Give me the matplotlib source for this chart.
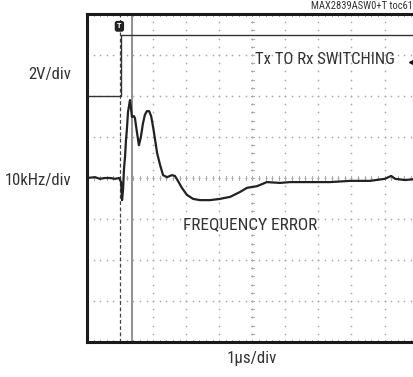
import numpy as np
import matplotlib
matplotlib.use('Agg')
import matplotlib.pyplot as plt
from matplotlib import font_manager

# pick a narrow face if one is available
names = set(f.name for f in font_manager.fontManager.ttflist)
narrow = [n for n in ['Liberation Sans Narrow', 'Roboto Condensed', 'Open Sans Condensed'] if n in names]
plt.rcParams['font.family'] = narrow + ['DejaVu Sans']
plt.rcParams['font.stretch'] = 'condensed'

# scope trace, in divisions (1us/div, 10kHz/div)
t_freq = [0.0, 0.24, 0.39, 0.54, 0.70, 0.85, 0.97, 1.03, 1.06, 1.09, 1.12, 1.15,
          1.18, 1.21, 1.24, 1.30, 1.33, 1.36, 1.42, 1.45, 1.51, 1.57, 1.63, 1.69,
          1.75, 1.81, 1.88, 1.94, 2.00, 2.06, 2.12, 2.21, 2.30, 2.42, 2.57, 2.66,
          2.75, 2.87, 3.02, 3.21, 3.42, 3.72, 4.02, 4.33, 4.63, 4.84, 5.14, 5.44,
          5.84, 6.14, 6.75, 7.35, 7.96, 8.56, 9.01, 9.20, 9.32, 9.62, 10.0]
freq_err = [0.0, 0.02, -0.02, 0.0, 0.0, -0.02, 0.0, -0.1, -0.54, -0.29, 0.24, 0.51,
            0.93, 1.22, 1.61, 1.90, 1.71, 1.49, 1.51, 1.46, 1.12, 0.80, 1.0, 1.32,
            1.54, 1.63, 1.63, 1.51, 1.24, 0.93, 0.61, 0.32, 0.07, 0.02, 0.07, 0.05,
            -0.07, -0.24, -0.41, -0.51, -0.54, -0.54, -0.51, -0.46, -0.34, -0.24, -0.20, -0.10,
            -0.12, -0.10, -0.10, -0.10, -0.07, -0.07, -0.02, 0.05, -0.02, -0.05, -0.02]

# Tx to Rx switching control (2V/div)
t_sw = [0.0, 1.02, 1.02, 10.0]
v_sw = [2.0, 2.0, 3.49, 3.49]

t_trig = 1.0
t_cursor = 1.35

W, H = 414, 377
fig = plt.figure(figsize=(W / 100, H / 100), dpi=100)
ax = fig.add_axes([87 / W, (H - 342) / H, 330.6 / W, 328 / H])
ax.set_xlim(0, 10)
ax.set_ylim(-4, 4)
ax.set_xticks([])
ax.set_yticks([])
for s in ax.spines.values():
    s.set_linewidth(2.2)
    s.set_color('#1a1a1a')

# dotted graticule
dots = np.arange(0, 10.01, 0.2)
vdots = np.arange(-4, 4.01, 0.2)
for gx in range(2, 10):
    if gx == 5:
        continue
    ax.scatter([gx] * len(vdots), vdots, s=1.5, color='#aaaaaa', lw=0)
for gy in [-3, -2, -1, 1, 2, 3]:
    ax.scatter(dots, [gy] * len(dots), s=1.5, color='#aaaaaa', lw=0)

# centre crosshair with minor ticks
for yy in vdots:
    ax.plot([4.95, 5.05], [yy, yy], color='#aaaaaa', lw=0.7)
for xx in dots:
    ax.plot([xx, xx], [-0.05, 0.05], color='#aaaaaa', lw=0.7)
    ax.plot([xx, xx], [-4, -3.95], color='#aaaaaa', lw=0.7)
    ax.plot([xx, xx], [4, 3.95], color='#aaaaaa', lw=0.7)
ax.scatter([5] * len(vdots), vdots, s=2, color='#999999', lw=0)
ax.scatter(dots, [0] * len(dots), s=2, color='#999999', lw=0)

# trigger position and cursor
ax.plot([t_trig, t_trig], [-4, 4], color='#444444', lw=0.9, dashes=(3, 2))
ax.axvline(t_cursor, color='#888888', lw=1.3)

# traces
ax.plot(t_sw, v_sw, color='#333333', lw=1.0)
ax.plot(t_freq, freq_err, color='#222222', lw=1.6)

# trigger marker and level marker
ax.text(t_trig - 0.02, 3.7, 'T', color='white', fontsize=5, fontweight='bold',
        ha='center', va='center', family='DejaVu Sans',
        bbox=dict(boxstyle='round,pad=0.25', fc='#222222', ec='#222222'))
ax.plot([9.87], [2.83], marker='<', color='#111111', markersize=6, clip_on=True)

# labels
def ftext(x, y, s, **kw):
    fig.text(x / W, 1 - y / H, s, **kw)

ftext(413, 6, 'MAX2839ASW0+T toc61', ha='right', va='center', fontsize=7.6, color='#333333')
ftext(71, 74, '2V/div', ha='right', va='center', fontsize=12, color='#333333')
ftext(71, 180, '10kHz/div', ha='right', va='center', fontsize=12, color='#333333')
ftext(255, 60, 'Tx TO Rx SWITCHING', ha='left', va='center', fontsize=12, color='#333333')
ftext(183, 225, 'FREQUENCY ERROR', ha='left', va='center', fontsize=12.4, color='#333333')
ftext(252, 358, '1\u03bcs/div', ha='center', va='center', fontsize=12.2, color='#333333')

fig.savefig('out.png', dpi=100)
